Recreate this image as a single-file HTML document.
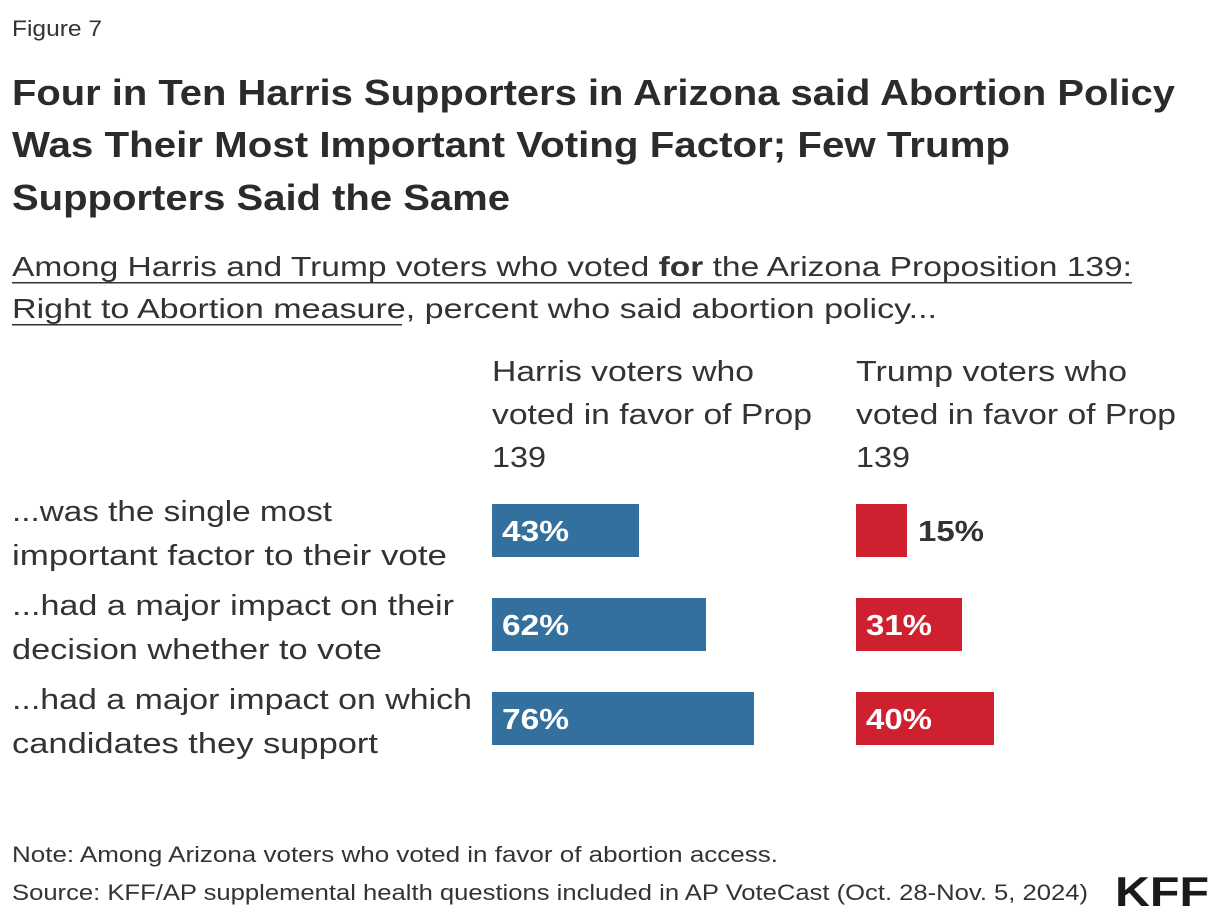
<!DOCTYPE html>
<html><head><meta charset="utf-8"><style>
html,body{margin:0;padding:0;background:#fff;}
svg{display:block;}
text{font-family:"Liberation Sans",sans-serif;}
</style></head><body>
<svg width="1220" height="924" viewBox="0 0 1220 924" xmlns="http://www.w3.org/2000/svg">
<text x="12" y="36" font-size="22" fill="#333" textLength="90" lengthAdjust="spacingAndGlyphs">Figure 7</text>
<g font-size="36" font-weight="bold" fill="#2b2b2b">
<text x="12" y="105" textLength="1163" lengthAdjust="spacingAndGlyphs">Four in Ten Harris Supporters in Arizona said Abortion Policy</text>
<text x="12" y="157" textLength="998" lengthAdjust="spacingAndGlyphs">Was Their Most Important Voting Factor; Few Trump</text>
<text x="12" y="210" textLength="498" lengthAdjust="spacingAndGlyphs">Supporters Said the Same</text>
</g>
<g font-size="28" fill="#333">
<text x="12" y="276" textLength="1120" lengthAdjust="spacingAndGlyphs">Among Harris and Trump voters who voted <tspan font-weight="bold">for</tspan> the Arizona Proposition 139:</text>
<text x="12" y="318" textLength="925" lengthAdjust="spacingAndGlyphs">Right to Abortion measure, percent who said abortion policy...</text>
</g>
<rect x="12" y="282" width="1120" height="1.5" fill="#333"/>
<rect x="12" y="324" width="390" height="1.5" fill="#333"/>
<g font-size="29" fill="#333">
<text x="492" y="381" textLength="262" lengthAdjust="spacingAndGlyphs">Harris voters who</text>
<text x="492" y="424" textLength="320" lengthAdjust="spacingAndGlyphs">voted in favor of Prop</text>
<text x="492" y="467" textLength="54" lengthAdjust="spacingAndGlyphs">139</text>
<text x="856" y="381" textLength="271" lengthAdjust="spacingAndGlyphs">Trump voters who</text>
<text x="856" y="424" textLength="320" lengthAdjust="spacingAndGlyphs">voted in favor of Prop</text>
<text x="856" y="467" textLength="54" lengthAdjust="spacingAndGlyphs">139</text>
<text x="12" y="521" textLength="320" lengthAdjust="spacingAndGlyphs">...was the single most</text>
<text x="12" y="565" textLength="435" lengthAdjust="spacingAndGlyphs">important factor to their vote</text>
<text x="12" y="615" textLength="442" lengthAdjust="spacingAndGlyphs">...had a major impact on their</text>
<text x="12" y="659" textLength="370" lengthAdjust="spacingAndGlyphs">decision whether to vote</text>
<text x="12" y="709" textLength="460" lengthAdjust="spacingAndGlyphs">...had a major impact on which</text>
<text x="12" y="753" textLength="366" lengthAdjust="spacingAndGlyphs">candidates they support</text>
</g>
<g fill="#34709e">
<rect x="492" y="504" width="147" height="53"/>
<rect x="492" y="598" width="214" height="53"/>
<rect x="492" y="692" width="262" height="53"/>
</g>
<g fill="#cf202f">
<rect x="856" y="504" width="51" height="53"/>
<rect x="856" y="598" width="106" height="53"/>
<rect x="856" y="692" width="138" height="53"/>
</g>
<g font-size="29" font-weight="bold">
<text x="502" y="541" fill="#fff" textLength="67" lengthAdjust="spacingAndGlyphs">43%</text>
<text x="502" y="635" fill="#fff" textLength="67" lengthAdjust="spacingAndGlyphs">62%</text>
<text x="502" y="729" fill="#fff" textLength="67" lengthAdjust="spacingAndGlyphs">76%</text>
<text x="918" y="541" fill="#333" textLength="66" lengthAdjust="spacingAndGlyphs">15%</text>
<text x="866" y="635" fill="#fff" textLength="66" lengthAdjust="spacingAndGlyphs">31%</text>
<text x="866" y="729" fill="#fff" textLength="66" lengthAdjust="spacingAndGlyphs">40%</text>
</g>
<g font-size="22" fill="#333">
<text x="12" y="862" textLength="766" lengthAdjust="spacingAndGlyphs">Note: Among Arizona voters who voted in favor of abortion access.</text>
<text x="12" y="900" textLength="1076" lengthAdjust="spacingAndGlyphs">Source: KFF/AP supplemental health questions included in AP VoteCast (Oct. 28-Nov. 5, 2024)</text>
</g>
<text x="1115" y="906" font-size="42" font-weight="bold" fill="#1a1a1a" textLength="94" lengthAdjust="spacingAndGlyphs">KFF</text>
</svg>
</body></html>
